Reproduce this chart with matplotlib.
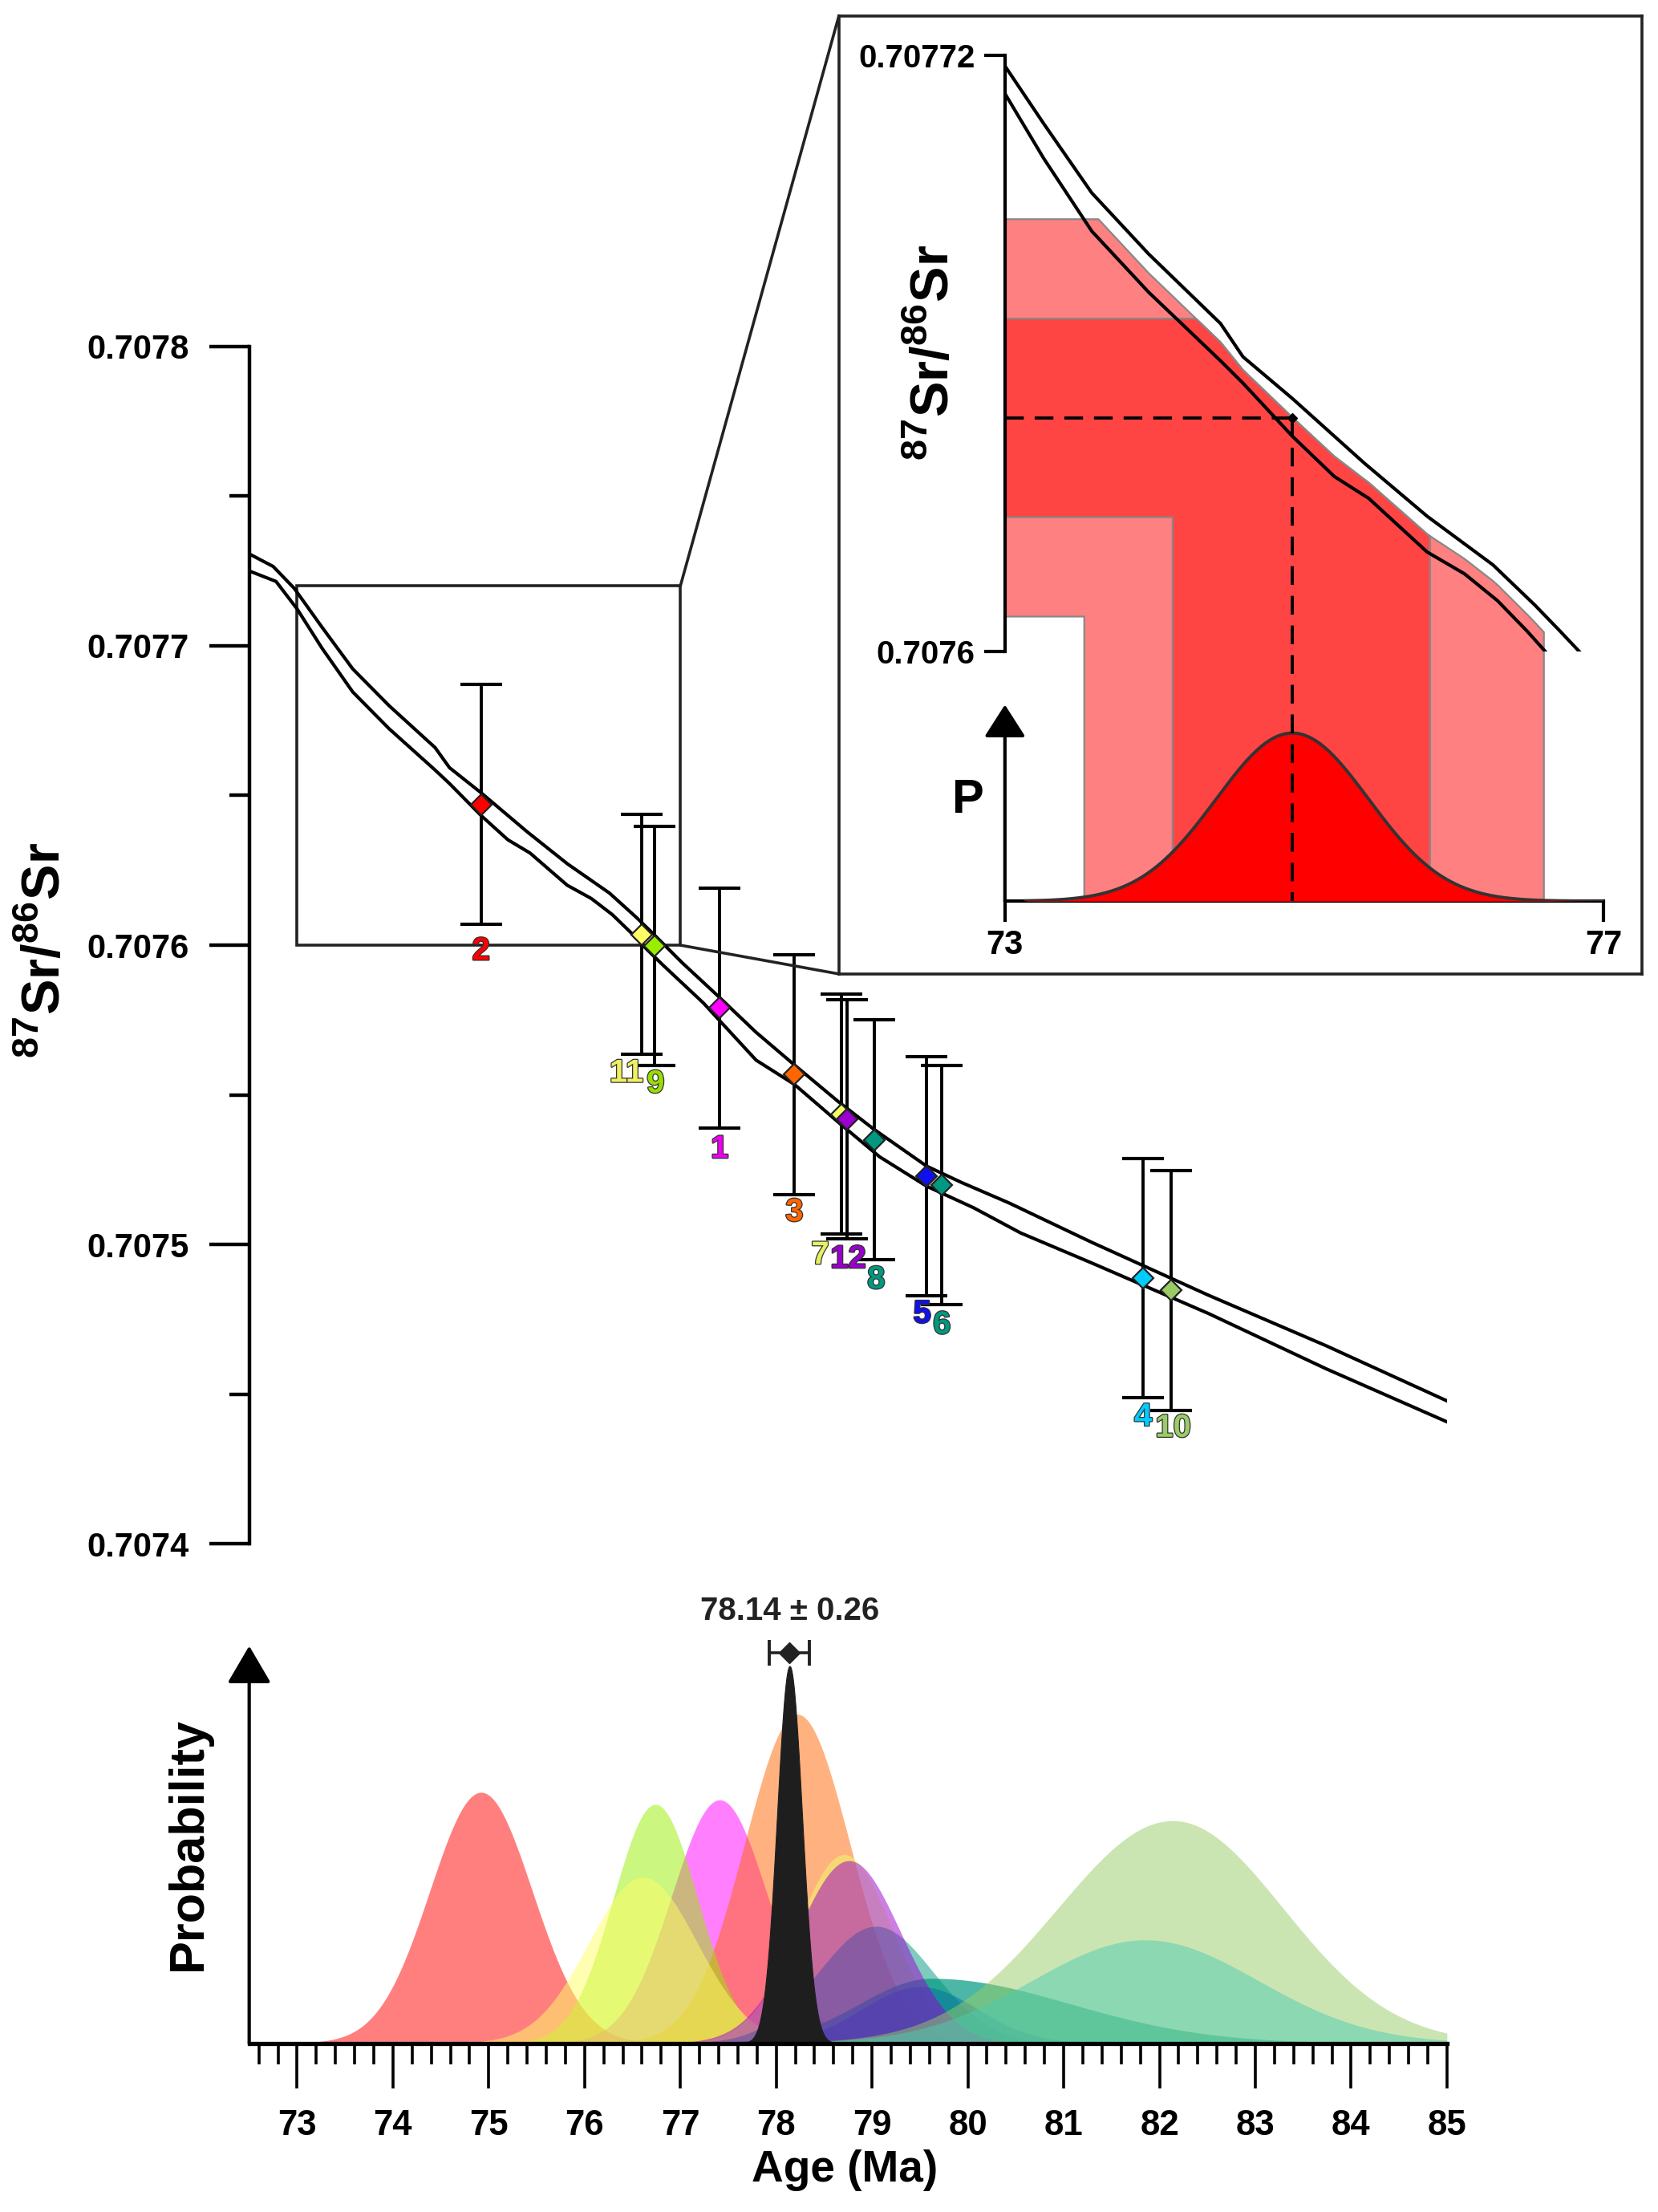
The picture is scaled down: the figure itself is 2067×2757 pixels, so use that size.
import numpy as np
import matplotlib
matplotlib.use('Agg')
import matplotlib.pyplot as plt
from matplotlib import font_manager
from matplotlib.patches import Rectangle, ConnectionPatch
from matplotlib.ticker import MultipleLocator, FormatStrFormatter
import matplotlib.patheffects as pe

names = {f.name for f in font_manager.fontManager.ttflist}
has_narrow = 'Liberation Sans Narrow' in names
narrow = 'Liberation Sans Narrow' if has_narrow else 'Liberation Sans'
nscale = 1.0 if has_narrow else 0.9

plt.rcParams['font.family'] = ['Liberation Sans', 'DejaVu Sans']
plt.rcParams['font.weight'] = 'bold'
plt.rcParams['mathtext.fontset'] = 'custom'
plt.rcParams['mathtext.rm'] = 'Liberation Sans:bold'
plt.rcParams['mathtext.bf'] = 'Liberation Sans:bold'

# samples calibrated on the Sr curve
sample = ['1', '2', '3', '4', '5', '6', '7', '8', '9', '10', '11', '12']
age = [77.41, 74.92, 78.19, 81.83, 79.57, 79.73, 78.68, 79.02, 76.73, 82.12, 76.60, 78.74]
sr = [0.7075790, 0.7076470, 0.7075568, 0.7074888, 0.7075228, 0.7075199,
      0.7075436, 0.7075350, 0.7075997, 0.7074847, 0.7076036, 0.7075419]
sr_err = [0.00004] * 12
colors = ['#FF00FF', '#FF0000', '#FF6600', '#00CCFF', '#1010EE', '#009980',
          '#EEFF66', '#009980', '#99EE00', '#99CC66', '#FFFF66', '#9900CC']
label_colors = ['#EE00EE', '#FF0000', '#FF6600', '#00CCFF', '#1010EE', '#00997F',
                '#E6F060', '#00997F', '#99DD00', '#99CC66', '#F0F060', '#9900CC']

# age probability curves (bottom panel): peak position, left / right spread, height
prob_center = [77.41, 74.92, 78.22, 81.85, 79.50, 79.62, 78.71, 79.04, 76.74, 82.14, 76.61, 78.76]
prob_sig_l = [0.50, 0.535, 0.55, 1.18, 0.60, 0.75, 0.50, 0.60, 0.44, 1.20, 0.565, 0.54]
prob_sig_r = [0.50, 0.535, 0.55, 1.18, 0.60, 1.45, 0.50, 0.60, 0.44, 1.15, 0.565, 0.54]
prob_peak = [0.645, 0.665, 0.872, 0.274, 0.15, 0.172, 0.50, 0.31, 0.633, 0.59, 0.44, 0.484]
prob_alpha = [0.5, 0.5, 0.5, 0.5, 0.5, 0.7, 0.5, 0.5, 0.5, 0.5, 0.5, 0.5]
draw_order = ['2', '1', '3', '9', '11', '7', '8', '5', '6', '12', '4', '10']
mean_age, mean_err, mean_sigma = 78.14, 0.26, 0.13

# Sr seawater curve (upper / lower bound)
upper_age = [72.50, 72.75, 72.97, 73.26, 73.58, 73.96, 74.44, 74.59, 74.92, 75.40, 75.82,
             76.26, 76.54, 76.71, 77.02, 77.38, 77.79, 78.19, 78.65, 79.02, 79.57, 79.93,
             80.43, 81.29, 82.51, 83.74, 85.00]
upper_sr = [0.7077307, 0.7077265, 0.7077192, 0.7077062, 0.7076923, 0.7076800, 0.7076660,
            0.7076593, 0.7076509, 0.7076379, 0.7076272, 0.7076174, 0.7076093, 0.7076040,
            0.7075941, 0.7075834, 0.7075709, 0.7075600, 0.7075477, 0.7075385, 0.7075262,
            0.7075208, 0.7075139, 0.7075008, 0.7074831, 0.7074662, 0.7074478]
lower_age = [72.50, 72.78, 73.00, 73.26, 73.58, 73.96, 74.44, 74.59, 74.92, 75.20, 75.43,
             75.82, 76.07, 76.29, 76.49, 76.65, 76.82, 77.24, 77.79, 78.19, 78.68, 79.08,
             79.57, 80.06, 80.55, 81.29, 82.51, 83.74, 85.00]
lower_sr = [0.7077250, 0.7077215, 0.7077123, 0.7076992, 0.7076846, 0.7076723, 0.7076585,
            0.7076540, 0.7076433, 0.7076352, 0.7076308, 0.7076200, 0.7076156, 0.7076102,
            0.7076040, 0.7075986, 0.7075933, 0.7075807, 0.7075616, 0.7075535, 0.7075400,
            0.7075293, 0.7075195, 0.7075123, 0.7075039, 0.7074939, 0.7074770, 0.7074585,
            0.7074408]

# inset example (sample 2)
ex_age = 74.92
ex_sr = 0.707647
ex_sr_1s = 0.00002
ex_age_2s = (73.53, 76.60)
ex_age_1s = (74.12, 75.84)
ex_sigma = 0.51
ex_peak = 0.856

# label offsets (points)
lab_dx = [0, 0, 0, 0, -4, 0, -19, 2, 1, 2, -14, 1]
lab_dy = [-19, -24, -16, -17, -16, -18, -19, -18, -16, -16, -17, -18]

LW = 3.0

fig = plt.figure(figsize=(20.67, 27.57), dpi=100)

# ---------------- main Sr panel
ax = fig.add_axes([0.1503, 0.3020, 0.7224, 0.5414])
ax.patch.set_alpha(0)
ax.set_xlim(72.5, 85)
ax.set_ylim(0.7074, 0.7078)
for s in ['top', 'right', 'bottom']:
    ax.spines[s].set_visible(False)
ax.spines['left'].set_linewidth(3.2)
ax.set_xticks([])
ax.set_yticks([0.7074, 0.7075, 0.7076, 0.7077, 0.7078])
ax.yaxis.set_major_formatter(FormatStrFormatter('%.4f'))
ax.yaxis.set_minor_locator(MultipleLocator(0.00005))
ax.tick_params(axis='y', which='major', length=36, width=3.2, pad=18, labelsize=30)
ax.tick_params(axis='y', which='minor', length=18, width=3.2)

ax.add_patch(Rectangle((73, 0.7076), 4, 0.00012, fill=False, lw=2.6, ec='#222', zorder=1))
ax.plot(upper_age, upper_sr, color='k', lw=LW, zorder=3, solid_joinstyle='round')
ax.plot(lower_age, lower_sr, color='k', lw=LW, zorder=3, solid_joinstyle='round')

order = np.argsort(age)
for i in order:
    ax.errorbar(age[i], sr[i], yerr=sr_err[i], fmt='none', ecolor='k', elinewidth=2.8,
                capsize=19, capthick=3.0, zorder=2)
for i in order:
    ax.plot(age[i], sr[i], marker='D', ms=13.5, mfc=colors[i], mec='#222', mew=1.6,
            zorder=4, ls='none')
for i in order:
    ax.annotate(sample[i], xy=(age[i], sr[i] - sr_err[i]), xytext=(lab_dx[i], lab_dy[i]),
                textcoords='offset points', ha='center', va='center',
                fontsize=32 * nscale, family=narrow, color=label_colors[i], zorder=5,
                path_effects=[pe.withStroke(linewidth=1.8, foreground='#333333')])

fig.text(0.0273, 0.5705, r'$^{87}$Sr/$^{86}$Sr', rotation=90, ha='center', va='center',
         fontsize=48)

# ---------------- inset
ax_frame = fig.add_axes([0.506, 0.5597, 0.4843, 0.4332])
ax_frame.set_xticks([])
ax_frame.set_yticks([])
for s in ax_frame.spines.values():
    s.set_linewidth(2.6)
    s.set_color('#222')

for yA, yB in [(0.70772, 1), (0.7076, 0)]:
    con = ConnectionPatch(xyA=(77, yA), coordsA=ax.transData, xyB=(0, yB),
                          coordsB=ax_frame.transAxes, color='#222', lw=2.6)
    fig.add_artist(con)

ybot = 0.7075497
ax_in = fig.add_axes([0.6061, 0.5926, 0.3612, 0.3824])
ax_in.patch.set_alpha(0)
ax_in.set_xlim(73, 77)
ax_in.set_ylim(ybot, 0.70772)
for s in ['top', 'right']:
    ax_in.spines[s].set_visible(False)
ax_in.spines['left'].set_bounds(0.7076, 0.70772)
ax_in.spines['left'].set_linewidth(3.0)
ax_in.spines['bottom'].set_linewidth(3.0)
ax_in.set_yticks([0.7076, 0.70772])
ax_in.set_yticklabels(['0.7076', '0.70772'])
ax_in.set_xticks([73, 77])
ax_in.set_xticklabels(['73', '77'])
ax_in.tick_params(axis='y', length=19, width=3.0, pad=8, labelsize=29)
ax_in.tick_params(axis='x', length=19, width=3.0, pad=6, labelsize=30)

g = np.linspace(73, 77, 900)
mid = (np.interp(g, upper_age, upper_sr) + np.interp(g, lower_age, lower_sr)) / 2


def band(a_lo, a_hi, s_lo, s_hi):
    m = g <= a_hi
    xs = list(g[m]) + [a_hi, a_hi, a_lo, a_lo, 73]
    ys = list(np.minimum(mid[m], s_hi)) + [np.interp(a_hi, g, mid), ybot, ybot, s_lo, s_lo]
    return xs, ys


xs, ys = band(ex_age_2s[0], ex_age_2s[1], ex_sr - 2 * ex_sr_1s, ex_sr + 2 * ex_sr_1s)
ax_in.fill(xs, ys, fc='#FF8080', ec='#888888', lw=1.6, zorder=1)
xs, ys = band(ex_age_1s[0], ex_age_1s[1], ex_sr - ex_sr_1s, ex_sr + ex_sr_1s)
ax_in.fill(xs, ys, fc='#FF4444', ec='#888888', lw=1.6, zorder=2)

clip = Rectangle((73, 0.7076), 4, 0.00012, transform=ax_in.transData, visible=False)
ax_in.add_patch(clip)
for xa, ya in [(upper_age, upper_sr), (lower_age, lower_sr)]:
    ln, = ax_in.plot(xa, ya, color='k', lw=LW, zorder=3, solid_joinstyle='round')
    ln.set_clip_path(clip)

ax_in.plot([73, ex_age], [ex_sr, ex_sr], color='k', lw=2.8, ls=(0, (6, 3.5)), zorder=4)

ax_p = fig.add_axes([0.6061, 0.5926, 0.3612, 0.0888])
ax_p.patch.set_alpha(0)
ax_p.set_xlim(73, 77)
ax_p.set_ylim(0, 1)
ax_p.axis('off')
gp = np.linspace(73.14, 77, 600)
pp = ex_peak * np.exp(-0.5 * ((gp - ex_age) / ex_sigma) ** 2)
ax_p.fill_between(gp, 0, pp, color='#FF0000', lw=0)
ax_p.plot(gp, pp, color='#333333', lw=2.8)
ax_p.plot([ex_age, ex_age], [ex_sr, ybot], color='k', lw=2.8, ls=(0, (6, 3.5)),
          transform=ax_in.transData, clip_on=False)
ax_p.plot([ex_age], [ex_sr], marker='D', ms=6, color='k', transform=ax_in.transData,
          clip_on=False)
ax_p.annotate('', xy=(73, 1), xytext=(73, 0),
              arrowprops=dict(arrowstyle='-|>,head_length=1.25,head_width=0.8', lw=3.0,
                              color='k', shrinkA=0, shrinkB=0, mutation_scale=20))
fig.text(0.5634, 0.8407, r'$^{87}$Sr/$^{86}$Sr', rotation=90, ha='center', va='center',
         fontsize=48)
fig.text(0.584, 0.6382, 'P', ha='center', va='center', fontsize=43)

# ---------------- probability panel
axb = fig.add_axes([0.1503, 0.0763, 0.7224, 0.1796])
axb.patch.set_alpha(0)
axb.set_xlim(72.5, 85)
axb.set_ylim(0, 1.053)
for s in ['top', 'right', 'left']:
    axb.spines[s].set_visible(False)
axb.spines['bottom'].set_linewidth(3.8)
axb.set_yticks([])
axb.set_xticks(range(73, 86))
axb.set_xticklabels([str(v) for v in range(73, 86)], fontsize=35 * nscale, family=narrow)
axb.xaxis.set_minor_locator(MultipleLocator(0.2))
axb.tick_params(axis='x', which='major', length=40, width=2.6, pad=19)
axb.tick_params(axis='x', which='minor', length=19, width=2.6)

gx = np.linspace(72.5, 85, 2000)
for name in draw_order:
    i = sample.index(name)
    c = prob_center[i]
    sig = np.where(gx < c, prob_sig_l[i], prob_sig_r[i])
    p = prob_peak[i] * np.exp(-0.5 * ((gx - c) / sig) ** 2)
    axb.fill_between(gx, 0, p, color=colors[i], alpha=prob_alpha[i], lw=0)

pm = np.exp(-0.5 * ((gx - mean_age) / mean_sigma) ** 2)
axb.fill_between(gx, 0, pm, color='#1E1E1E', lw=0.8, ec='#1E1E1E')

eb = axb.errorbar(mean_age, 1.034, xerr=0.21, fmt='D', ms=13.5, mfc='#222222', mec='#222222',
                  ecolor='#222222', elinewidth=2.6, capsize=11.5, capthick=2.8)
for art in [eb[0], *eb[1], *eb[2]]:
    art.set_clip_on(False)
axb.text(mean_age, 1.146, f'{mean_age:.2f} ± {mean_err:.2f}', ha='center', va='center',
         fontsize=29, color='#222222', clip_on=False)

axb.annotate('', xy=(72.5, 1.053), xytext=(72.5, 0),
             arrowprops=dict(arrowstyle='-|>,head_length=1.45,head_width=0.85', lw=3.0,
                             color='k', shrinkA=0, shrinkB=0, mutation_scale=20))

fig.text(0.1137, 0.1665, 'Probability', rotation=90, ha='center', va='center', fontsize=44)
fig.text(0.5094, 0.0189, 'Age (Ma)', ha='center', va='center', fontsize=44 * nscale,
         family=narrow)

fig.savefig('out.png', dpi=100)
